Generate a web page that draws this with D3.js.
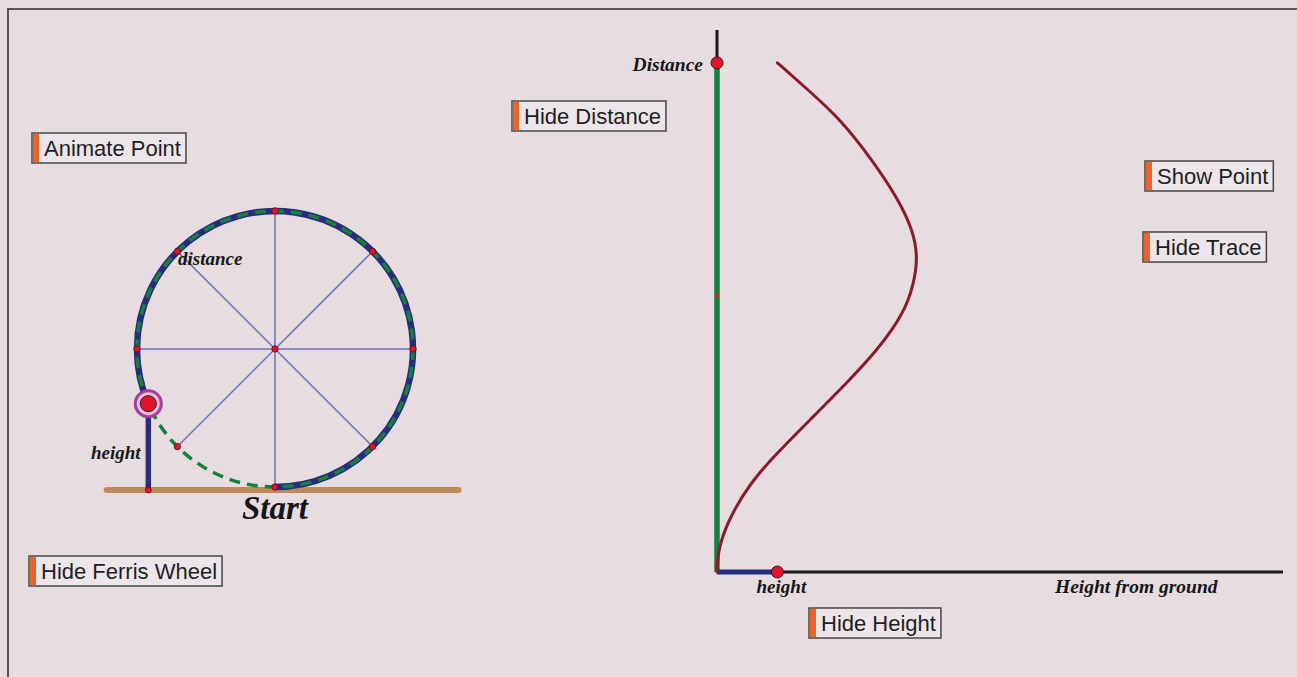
<!DOCTYPE html>
<html>
<head>
<meta charset="utf-8">
<script src="https://cdn.jsdelivr.net/npm/d3@7"></script>
<style>
  html, body { margin: 0; padding: 0; background: #e7dde0; }
  svg { display: block; }
  .btn text { font-family: "Liberation Sans", Arial, sans-serif; font-size: 22px; fill: #1e1e22; }
  .lbl { font-family: "Liberation Serif", "Times New Roman", serif; font-style: italic; font-weight: bold; fill: #161616; }
</style>
</head>
<body>
<script>
const pageWidth = 1297;
const pageHeight = 677;

// trace of the point: distance travelled (wheel radii) vs height above ground (wheel radii)
const traceDistance = [0, 0.09, 0.29, 0.55, 0.89, 1.20, 1.53, 1.93, 2.23, 2.60, 2.90, 3.17, 3.44, 3.77, 4.14, 4.54, 4.84, 5.12];
const traceHeight   = [0, 0.00, 0.03, 0.13, 0.33, 0.61, 0.94, 1.34, 1.62, 1.89, 1.99, 2.03, 1.98, 1.82, 1.57, 1.26, 0.93, 0.61];

// current point
const currentDistance = 5.12;
const currentHeight = 0.61;
const distanceMarker = 2.78;   // small dot on the distance axis

// wheel
const spokeAngles = [0, 45, 90, 135, 180, 225, 270, 315];
const groundExtent = [-1.22, 1.33];

// axes
const heightAxisMax = 5.72;
const distanceAxisMax = 5.45;
const axisLabels = ["Distance", "height", "Height from ground"];

// buttons
const buttonLabels = ["Animate Point", "Hide Distance", "Show Point", "Hide Trace", "Hide Ferris Wheel", "Hide Height"];
const buttonPos = [[32, 133], [512, 101], [1145, 161], [1143, 232], [29, 556], [809, 608]];

const navy = "#272c7c";
const green = "#17803c";
const red = "#e3132b";

function setup() {
    const svg = d3.select("body").append("svg")
        .attr("width", pageWidth)
        .attr("height", pageHeight);

    svg.append("rect")
        .attr("x", 8).attr("y", 9)
        .attr("width", pageWidth + 20).attr("height", pageHeight + 20)
        .attr("fill", "#e7dde0")
        .attr("stroke", "#555")
        .attr("stroke-width", 2);

    // ---------- Ferris wheel ----------
    const cx = 275, cy = 349;
    const r = d3.scaleLinear().domain([0, 1]).range([0, 138]);
    const wheel = svg.append("g").attr("transform", `translate(${cx},${cy})`);

    // ground
    wheel.append("line")
        .attr("x1", r(groundExtent[0])).attr("x2", r(groundExtent[1]))
        .attr("y1", r(1) + 3).attr("y2", r(1) + 3)
        .attr("stroke", "#be8a5c")
        .attr("stroke-width", 6)
        .attr("stroke-linecap", "round");

    // spokes
    wheel.selectAll(".spoke")
        .data(spokeAngles)
        .enter().append("line")
        .attr("class", "spoke")
        .attr("x1", 0).attr("y1", 0)
        .attr("x2", d => r(Math.sin(d * Math.PI / 180)))
        .attr("y2", d => r(Math.cos(d * Math.PI / 180)))
        .attr("stroke", "#6b70b6")
        .attr("stroke-width", 1.5);

    // travelled arc (navy) starting at the bottom
    const travelled = d3.path();
    travelled.arc(0, 0, r(1), Math.PI / 2, Math.PI / 2 - currentDistance, true);
    wheel.append("path")
        .attr("d", travelled.toString())
        .attr("fill", "none")
        .attr("stroke", navy)
        .attr("stroke-width", 6.5);

    // dashed green rim
    wheel.append("circle")
        .attr("r", r(1))
        .attr("fill", "none")
        .attr("stroke", green)
        .attr("stroke-width", 3.5)
        .attr("stroke-dasharray", "11,7");

    // spoke end dots + centre
    const dots = spokeAngles.map(d => [r(Math.sin(d * Math.PI / 180)), r(Math.cos(d * Math.PI / 180))]);
    dots.push([0, 0]);
    wheel.selectAll(".hub")
        .data(dots)
        .enter().append("circle")
        .attr("class", "hub")
        .attr("cx", d => d[0]).attr("cy", d => d[1])
        .attr("r", 3.2)
        .attr("fill", red)
        .attr("stroke", "#5a0a14")
        .attr("stroke-width", 0.8);

    // point on the wheel + height bar
    const px = r(Math.sin(currentDistance));
    const py = r(Math.cos(currentDistance));
    wheel.append("line")
        .attr("x1", px).attr("x2", px)
        .attr("y1", r(1) + 3).attr("y2", r(1) + 3 - r(currentHeight))
        .attr("stroke", navy)
        .attr("stroke-width", 5.5);
    wheel.append("circle")
        .attr("cx", px).attr("cy", r(1) + 3)
        .attr("r", 3)
        .attr("fill", red).attr("stroke", "#5a0a14").attr("stroke-width", 0.8);
    wheel.append("circle")
        .attr("cx", px).attr("cy", py)
        .attr("r", 13)
        .attr("fill", "#e7bcd9")
        .attr("stroke", "#a23d9f")
        .attr("stroke-width", 3);
    wheel.append("circle")
        .attr("cx", px).attr("cy", py)
        .attr("r", 8)
        .attr("fill", red)
        .attr("stroke", "#3a1018")
        .attr("stroke-width", 1);

    // wheel labels
    svg.append("text").attr("class", "lbl")
        .attr("x", 178).attr("y", 265)
        .style("font-size", "19px")
        .text("distance");
    svg.append("text").attr("class", "lbl")
        .attr("x", 91).attr("y", 459)
        .style("font-size", "19px")
        .text("height");
    svg.append("text").attr("class", "lbl")
        .attr("x", cx).attr("y", 519)
        .attr("text-anchor", "middle")
        .style("font-size", "33px")
        .text("Start");

    // ---------- graph ----------
    const x = d3.scaleLinear().domain([0, heightAxisMax]).range([717, 1283]);
    const y = d3.scaleLinear().domain([0, distanceAxisMax]).range([572, 30]);

    // height axis
    svg.append("line")
        .attr("x1", x(0)).attr("x2", x(heightAxisMax))
        .attr("y1", y(0)).attr("y2", y(0))
        .attr("stroke", "#1a1a1a").attr("stroke-width", 3);
    // distance axis
    svg.append("line")
        .attr("x1", x(0)).attr("x2", x(0))
        .attr("y1", y(0)).attr("y2", y(distanceAxisMax))
        .attr("stroke", "#1a1a1a").attr("stroke-width", 3);

    // distance (green) and height (navy) bars
    svg.append("line")
        .attr("x1", x(0)).attr("x2", x(0))
        .attr("y1", y(0)).attr("y2", y(currentDistance))
        .attr("stroke", green).attr("stroke-width", 5.5);
    svg.append("line")
        .attr("x1", x(0)).attr("x2", x(currentHeight))
        .attr("y1", y(0)).attr("y2", y(0))
        .attr("stroke", navy).attr("stroke-width", 5);

    // trace
    const trace = traceDistance.map((d, i) => [traceHeight[i], d]);
    svg.append("path")
        .datum(trace)
        .attr("d", d3.line().x(d => x(d[0])).y(d => y(d[1])).curve(d3.curveBasis))
        .attr("fill", "none")
        .attr("stroke", "#8a1a2c")
        .attr("stroke-width", 3)
        .attr("stroke-linecap", "round");

    svg.append("circle")
        .attr("cx", x(0)).attr("cy", y(distanceMarker))
        .attr("r", 2).attr("fill", red);

    svg.append("circle")
        .attr("cx", x(0)).attr("cy", y(currentDistance))
        .attr("r", 6).attr("fill", red).attr("stroke", "#3a1018").attr("stroke-width", 1);
    svg.append("circle")
        .attr("cx", x(currentHeight)).attr("cy", y(0))
        .attr("r", 6).attr("fill", red).attr("stroke", "#3a1018").attr("stroke-width", 1);

    svg.append("text").attr("class", "lbl")
        .attr("x", x(0) - 14).attr("y", y(currentDistance) + 8)
        .attr("text-anchor", "end")
        .style("font-size", "19.5px")
        .text(axisLabels[0]);
    svg.append("text").attr("class", "lbl")
        .attr("x", x(currentHeight) + 4).attr("y", 593)
        .attr("text-anchor", "middle")
        .style("font-size", "19px")
        .text(axisLabels[1]);
    svg.append("text").attr("class", "lbl")
        .attr("x", 1055).attr("y", 593)
        .style("font-size", "19.5px")
        .text(axisLabels[2]);

    // ---------- buttons ----------
    const btn = svg.selectAll(".btn")
        .data(buttonLabels)
        .enter().append("g")
        .attr("class", "btn")
        .attr("transform", (d, i) => `translate(${buttonPos[i][0]},${buttonPos[i][1]})`);

    btn.append("rect")
        .attr("height", 30)
        .attr("fill", "#ece6ea")
        .attr("stroke", "#454545")
        .attr("stroke-width", 1.5);
    btn.append("rect")
        .attr("x", 1).attr("y", 1)
        .attr("width", 6).attr("height", 28)
        .attr("fill", "#e8652a");
    btn.append("text")
        .attr("x", 12).attr("y", 23)
        .text(d => d)
        .each(function () {
            const w = this.getComputedTextLength();
            d3.select(this.parentNode).select("rect").attr("width", w + 17);
        });
}

setup();
</script>
</body>
</html>
